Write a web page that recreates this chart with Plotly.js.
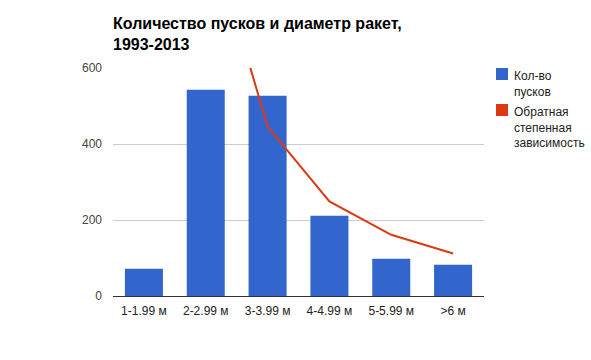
<!DOCTYPE html>
<html>
<head>
<meta charset="utf-8">
<script src="https://cdn.plot.ly/plotly-3.0.1.min.js"></script>
<style>html,body{margin:0;padding:0;background:#fff;}#chart{width:591px;height:360px;}</style>
</head>
<body>
<div id="chart"></div>
<script>
const categories = ["1-1.99 м", "2-2.99 м", "3-3.99 м", "4-4.99 м", "5-5.99 м", ">6 м"];
const launches = [72, 543, 527, 211, 98, 82];
const inversePower = [4000, 1000, 446, 249, 161, 112];
const seriesNames = ["Кол-во<br>пусков", "Обратная<br>степенная<br>зависимость"];
const seriesColors = ["#3366CC", "#DC3912"];
const yTicks = [0, 200, 400, 600];
const titleText = "Количество пусков и диаметр ракет,<br>1993-2013";

const W = 591, H = 360;
const M = {l: 113, r: 107, t: 68, b: 64};
const pw = W - M.l - M.r, ph = H - M.t - M.b;
const px = x => (x - M.l) / pw;
const py = y => (H - M.b - y) / ph;

const font = "Arial, 'Liberation Sans', sans-serif";

const traces = [
  {type: "bar", x: categories, y: launches, name: seriesNames[0],
   marker: {color: seriesColors[0]}, showlegend: false, hoverinfo: "x+y"},
  {type: "scatter", mode: "lines", x: categories, y: inversePower, name: seriesNames[1],
   line: {color: seriesColors[1], width: 2}, showlegend: false, hoverinfo: "x+y"}
];

const shapes = [], annotations = [];
const legendTops = [68, 104];
seriesNames.forEach((n, i) => {
  const t = legendTops[i];
  shapes.push({type: "rect", xref: "paper", yref: "paper",
    x0: px(496), x1: px(508), y0: py(t), y1: py(t + 12),
    fillcolor: seriesColors[i], line: {width: 0}});
  annotations.push({xref: "paper", yref: "paper", x: px(512), y: py(t - 1),
    xanchor: "left", yanchor: "top", align: "left", showarrow: false,
    text: n, font: {family: font, size: 12, color: "#222"}});
});

const layout = {
  width: W, height: H,
  margin: M,
  paper_bgcolor: "#fff", plot_bgcolor: "#fff",
  font: {family: font, size: 12, color: "#222"},
  title: {text: titleText, xref: "paper", x: 0, xanchor: "left",
    yref: "container", y: 1 - 29 / H, yanchor: "top",
    font: {family: font, size: 16, color: "#000", weight: "bold"}},
  barmode: "overlay",
  bargap: 0.385,
  showlegend: false,
  xaxis: {type: "category", showgrid: false, showline: true, linecolor: "#333", linewidth: 1,
    ticks: "", ticklabelstandoff: 4, tickfont: {family: font, size: 12, color: "#222"}, zeroline: false,
    fixedrange: true},
  yaxis: {range: [0, 600], tickvals: yTicks, ticktext: yTicks.map(String),
    showgrid: true, gridcolor: "#ccc", gridwidth: 1, zeroline: false, showline: false,
    ticks: "", ticklabelstandoff: 10, tickfont: {family: font, size: 12, color: "#444"},
    fixedrange: true},
  shapes: shapes,
  annotations: annotations
};

Plotly.newPlot("chart", traces, layout, {displayModeBar: false, staticPlot: true});
</script>
</body>
</html>
